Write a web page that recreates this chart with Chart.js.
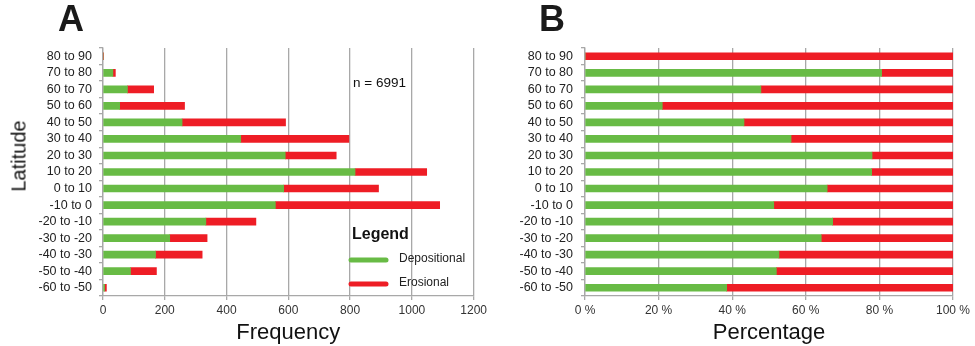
<!DOCTYPE html>
<html>
<head>
<meta charset="utf-8">
<script src="https://cdn.jsdelivr.net/npm/chart.js@4/dist/chart.umd.min.js"></script>
<style>
  html, body { margin: 0; padding: 0; background: #fff; }
  body { width: 975px; height: 346px; position: relative; overflow: hidden; font-family: "Liberation Sans", Arial, sans-serif; }
  #wrapA { position: absolute; left: 0; top: 0; width: 490px; height: 346px; }
  #wrapB { position: absolute; left: 490px; top: 0; width: 485px; height: 346px; }
  .panel { position: absolute; top: -2px; font-weight: bold; font-size: 36px; color: #1a1a1a; }
  #latitude { position: absolute; left: 19px; top: 156px; font-size: 20px; color: #111;
              transform: translate(-50%, -50%) rotate(-90deg); white-space: nowrap; }
</style>
</head>
<body>
<div id="wrapA"><canvas id="chartA" width="490" height="346"></canvas></div>
<div id="wrapB"><canvas id="chartB" width="485" height="346"></canvas></div>
<div class="panel" style="left:58px;">A</div>
<div class="panel" style="left:539px;">B</div>
<div id="latitude">Latitude</div>
<script>
// ---- data ----
const latitudeBands = ["80 to 90","70 to 80","60 to 70","50 to 60","40 to 50","30 to 40","20 to 30","10 to 20","0 to 10","-10 to 0","-20 to -10","-30 to -20","-40 to -30","-50 to -40","-60 to -50"];
const depositionalCount = [0, 32, 79, 54, 256, 446, 590, 816, 585, 558, 333, 216, 170, 89, 5];
const erosionalCount    = [2, 8, 85, 210, 335, 350, 165, 232, 307, 532, 162, 121, 151, 84, 6];
const depositionalPct = [0, 80.6, 47.8, 21.0, 43.2, 56.0, 78.0, 77.9, 65.8, 51.3, 67.3, 64.2, 52.7, 52.0, 38.5];
const erosionalPct    = [100, 19.4, 52.2, 79.0, 56.8, 44.0, 22.0, 22.1, 34.2, 48.7, 32.7, 35.8, 47.3, 48.0, 61.5];
const seriesNames = ["Depositional", "Erosional"];
const freqTicks = [0, 200, 400, 600, 800, 1000, 1200];
const pctTicks = [0, 20, 40, 60, 80, 100];
const sampleNote = "n = 6991";

const GREEN = "#68bb45";
const RED = "#ee1d25";
const GRID = "#a8a8a8";
const FONT = "'Liberation Sans', Arial, sans-serif";

function makeOptions(xMax, step, tickCb, title, yPad, widthY) {
  return {
    indexAxis: 'y',
    responsive: false,
    animation: false,
    events: [],
    layout: { padding: { top: 48, right: 0, bottom: 0, left: 0 } },
    plugins: { legend: { display: false }, tooltip: { enabled: false } },
    scales: {
      x: {
        stacked: true, min: 0, max: xMax,
        afterBuildTicks: s => { s.ticks = (xMax === 1200 ? freqTicks : pctTicks).map(v => ({ value: v })); },
        ticks: { stepSize: step, callback: tickCb, color: '#333', font: { family: FONT, size: 12 }, padding: 3, maxRotation: 0 },
        grid: { color: GRID, lineWidth: 1.3, tickLength: 4, drawTicks: true },
        border: { color: GRID, width: 1.3 },
        title: { display: true, text: title, color: '#111', font: { family: FONT, size: 22 }, padding: { top: 0, bottom: 0 } },
        afterFit: s => { s.height = 50; }
      },
      y: {
        stacked: true,
        ticks: { color: '#222', font: { family: FONT, size: 12.5 }, padding: yPad, autoSkip: false },
        grid: { drawOnChartArea: false, drawTicks: true, tickLength: 4, color: GRID, lineWidth: 1.3 },
        border: { color: GRID, width: 1.3 },
        afterFit: s => { s.width = widthY; }
      }
    }
  };
}

const legendPlugin = {
  id: 'legendA',
  afterDraw(chart) {
    const ctx = chart.ctx;
    ctx.save();
    ctx.fillStyle = '#111';
    ctx.textBaseline = 'middle';
    ctx.textAlign = 'left';
    ctx.font = "13.5px " + FONT;
    ctx.fillText(sampleNote, 353, 83);
    ctx.font = "bold 16px " + FONT;
    ctx.fillText("Legend", 352, 235);
    const items = [[seriesNames[0], GREEN, 260], [seriesNames[1], RED, 284]];
    ctx.lineCap = 'round';
    ctx.lineWidth = 5;
    for (const [label, col, y] of items) {
      ctx.strokeStyle = col;
      ctx.beginPath(); ctx.moveTo(351, y); ctx.lineTo(386, y); ctx.stroke();
      ctx.fillStyle = '#222';
      ctx.font = "12px " + FONT;
      ctx.fillText(label, 399, y - 1);
    }
    ctx.restore();
  }
};

function datasets(a, b) {
  return [
    { label: seriesNames[0], data: a, backgroundColor: GREEN, barThickness: 7, borderWidth: 0 },
    { label: seriesNames[1], data: b, backgroundColor: RED, barThickness: 7, borderWidth: 0 }
  ];
}

const optA = makeOptions(1200, 200, v => String(v), "Frequency", 7, 103);
optA.layout.padding.right = 16;
new Chart(document.getElementById('chartA'), {
  type: 'bar',
  data: { labels: latitudeBands, datasets: datasets(depositionalCount, erosionalCount) },
  options: optA,
  plugins: [legendPlugin]
});

const optB = makeOptions(100, 20, v => v + " %", "Percentage", 8, 95);
optB.layout.padding.right = 22;
new Chart(document.getElementById('chartB'), {
  type: 'bar',
  data: { labels: latitudeBands, datasets: datasets(depositionalPct, erosionalPct) },
  options: optB
});
</script>
</body>
</html>
